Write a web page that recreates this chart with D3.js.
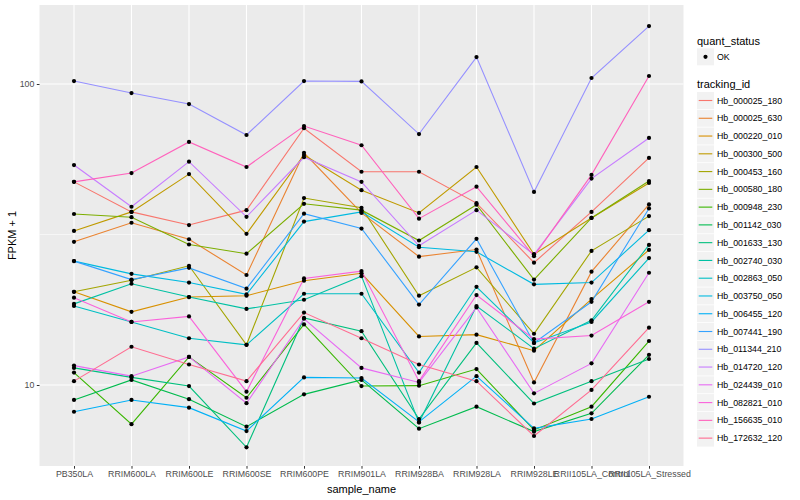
<!DOCTYPE html>
<html><head><meta charset="utf-8">
<script src="https://cdn.jsdelivr.net/npm/d3@7"></script>
<style>body{margin:0;background:#fff}svg text{font-family:"Liberation Sans",Arial,Helvetica,sans-serif}</style>
</head><body>
<svg id="chart" width="800" height="500"></svg>
<script>
const categories = ["PB350LA","RRIM600LA","RRIM600LE","RRIM600SE","RRIM600PE","RRIM901LA","RRIM928BA","RRIM928LA","RRIM928LE","RRII105LA_Control","RRII105LA_Stressed"];
const trackingIds = ["Hb_000025_180","Hb_000025_630","Hb_000220_010","Hb_000300_500","Hb_000453_160","Hb_000580_180","Hb_000948_230","Hb_001142_030","Hb_001633_130","Hb_002740_030","Hb_002863_050","Hb_003750_050","Hb_006455_120","Hb_007441_190","Hb_011344_210","Hb_014720_120","Hb_024439_010","Hb_082821_010","Hb_156635_010","Hb_172632_120"];
const trackingColors = ["#F8766D","#EA8331","#D89000","#C09B00","#A3A500","#7CAE00","#39B600","#00BB4E","#00BF7D","#00C1A3","#00BFC4","#00BAE0","#00B0F6","#35A2FF","#9590FF","#C77CFF","#E76BF3","#FA62DB","#FF62BC","#FF6C91"];
const yTicks = [10, 100];

// FPKM + 1 per sample (categories order)
const hb_000025_180 = [47.3, 37.6, 34.0, 38.1, 71.3, 51.1, 51.1, 40.2, 25.5, 37.6, 56.8];
const hb_000025_630 = [29.9, 34.6, 30.5, 23.2, 59.1, 37.3, 26.7, 28.2, 10.2, 23.8, 39.8];
const hb_000220_010 = [20.4, 17.5, 19.6, 19.8, 22.2, 23.5, 14.5, 14.7, 13.0, 19.3, 28.1];
const hb_000300_500 = [32.5, 37.6, 50.2, 31.8, 58.1, 44.4, 37.3, 53.0, 27.2, 35.9, 46.9];
const hb_000453_160 = [20.4, 22.3, 24.9, 13.6, 41.8, 38.8, 19.8, 24.6, 14.8, 27.9, 36.4];
const hb_000580_180 = [37.0, 36.1, 29.3, 27.3, 40.0, 38.1, 30.2, 39.7, 22.4, 35.9, 47.6];
const hb_000948_230 = [11.0, 7.41, 12.4, 9.07, 15.9, 9.92, 9.95, 11.3, 7.09, 8.47, 14.0];
const hb_001142_030 = [8.92, 10.4, 8.97, 7.27, 9.31, 10.4, 7.16, 8.47, 7.00, 8.05, 12.6];
const hb_001633_130 = [11.4, 10.6, 9.92, 6.21, 16.7, 15.1, 7.71, 13.8, 8.68, 10.3, 12.2];
const hb_002740_030 = [18.6, 21.7, 19.6, 17.9, 19.2, 23.0, 7.50, 18.3, 13.2, 16.4, 29.2];
const hb_002863_050 = [18.3, 16.2, 14.3, 13.6, 20.1, 20.1, 11.0, 21.2, 13.8, 16.2, 26.4];
const hb_003750_050 = [25.8, 23.4, 21.9, 20.0, 34.9, 37.6, 28.7, 27.7, 21.6, 21.9, 32.7];
const hb_006455_120 = [8.15, 8.92, 8.41, 7.03, 10.6, 10.55, 7.54, 10.7, 7.18, 7.71, 9.14];
const hb_007441_190 = [25.8, 22.4, 24.5, 20.9, 37.1, 33.1, 18.5, 30.6, 13.8, 18.9, 38.6];
const hb_011344_210 = [102.3, 93.3, 85.8, 67.7, 102.3, 102.0, 68.2, 122.9, 43.8, 104.7, 155.8];
const hb_014720_120 = [53.8, 39.1, 55.2, 36.2, 57.1, 47.3, 29.0, 38.1, 27.1, 48.5, 66.2];
const hb_024439_010 = [11.6, 10.7, 12.4, 8.70, 16.6, 11.4, 10.2, 18.1, 9.38, 11.8, 23.6];
const hb_082821_010 = [19.5, 16.2, 16.9, 9.50, 22.6, 23.9, 10.3, 19.9, 14.2, 14.6, 18.9];
const hb_156635_010 = [47.3, 50.6, 64.2, 53.0, 72.5, 62.6, 35.7, 45.6, 26.8, 49.9, 106.3];
const hb_172632_120 = [10.3, 13.4, 11.7, 10.3, 17.4, 14.3, 11.7, 10.3, 6.77, 9.63, 15.5];

const seriesValues = [hb_000025_180, hb_000025_630, hb_000220_010, hb_000300_500, hb_000453_160, hb_000580_180, hb_000948_230, hb_001142_030, hb_001633_130, hb_002740_030, hb_002863_050, hb_003750_050, hb_006455_120, hb_007441_190, hb_011344_210, hb_014720_120, hb_024439_010, hb_082821_010, hb_156635_010, hb_172632_120];

const series = trackingIds.map((id, i) => ({id, color: trackingColors[i], values: seriesValues[i].map((v, j) => ({cat: categories[j], v}))}));

const svg = d3.select("#chart");
const panel = {left: 39.5, right: 683.5, top: 5, bottom: 466};

const x = d3.scalePoint().domain(categories).range([panel.left, panel.right]).padding(0.6);
const y = d3.scaleLog().domain([Math.pow(10, 0.7309), Math.pow(10, 2.2625)]).range([panel.bottom, panel.top]);

svg.append("rect").attr("x", panel.left).attr("y", panel.top)
  .attr("width", panel.right - panel.left).attr("height", panel.bottom - panel.top).attr("fill", "#EBEBEB");

// minor gridline at 10^1.5
const minor = [Math.pow(10, 1.5)];
svg.append("g").selectAll("line").data(minor).join("line")
  .attr("x1", panel.left).attr("x2", panel.right)
  .attr("y1", d => y(d)).attr("y2", d => y(d))
  .attr("stroke", "#fff").attr("stroke-width", 0.55);
svg.append("g").selectAll("line").data(yTicks).join("line")
  .attr("x1", panel.left).attr("x2", panel.right)
  .attr("y1", d => y(d)).attr("y2", d => y(d))
  .attr("stroke", "#fff").attr("stroke-width", 1.1);
svg.append("g").selectAll("line").data(categories).join("line")
  .attr("x1", d => x(d)).attr("x2", d => x(d))
  .attr("y1", panel.top).attr("y2", panel.bottom)
  .attr("stroke", "#fff").attr("stroke-width", 1.1);

const line = d3.line().x(d => x(d.cat)).y(d => y(d.v));
svg.append("g").selectAll("path").data(series).join("path")
  .attr("d", d => line(d.values)).attr("fill", "none")
  .attr("stroke", d => d.color).attr("stroke-width", 1.1);

svg.append("g").selectAll("g").data(series).join("g")
  .selectAll("circle").data(d => d.values).join("circle")
  .attr("cx", d => x(d.cat)).attr("cy", d => y(d.v)).attr("r", 2.1).attr("fill", "#000");

// axes
const xAxis = d3.axisBottom(x).tickSize(2.7).tickPadding(2.5);
const gx = svg.append("g").attr("transform", `translate(0,${panel.bottom})`).call(xAxis);
gx.select(".domain").remove();
gx.selectAll(".tick line").attr("stroke", "#333");
gx.selectAll(".tick text").attr("fill", "#4D4D4D").attr("font-size", 8.8).attr("font-family", "Liberation Sans, Arial, sans-serif");

const yAxis = d3.axisLeft(y).tickValues(yTicks).tickFormat(d3.format("d")).tickSize(2.7).tickPadding(2.5);
const gy = svg.append("g").attr("transform", `translate(${panel.left},0)`).call(yAxis);
gy.select(".domain").remove();
gy.selectAll(".tick line").attr("stroke", "#333");
gy.selectAll(".tick text").attr("fill", "#4D4D4D").attr("font-size", 8.8).attr("font-family", "Liberation Sans, Arial, sans-serif");

svg.append("text").attr("x", (panel.left + panel.right) / 2).attr("y", 493)
  .attr("text-anchor", "middle").attr("font-size", 11).attr("fill", "#000").text("sample_name");
svg.append("text").attr("transform", `translate(16,${(panel.top + panel.bottom) / 2}) rotate(-90)`)
  .attr("text-anchor", "middle").attr("font-size", 11).attr("fill", "#000").text("FPKM + 1");

// legends
const lg = svg.append("g");
lg.append("text").attr("x", 697).attr("y", 44.5).attr("font-size", 11).text("quant_status");
lg.append("rect").attr("x", 697).attr("y", 48.3).attr("width", 17).attr("height", 17).attr("fill", "#F2F2F2");
lg.append("circle").attr("cx", 705.5).attr("cy", 56.8).attr("r", 2.1).attr("fill", "#000");
lg.append("text").attr("x", 717).attr("y", 59.8).attr("font-size", 8.8).text("OK");

lg.append("text").attr("x", 697).attr("y", 88).attr("font-size", 11).text("tracking_id");
const keyH = 17.77, keyY0 = 92;
const keys = lg.selectAll("g.key").data(series).join("g").attr("class", "key")
  .attr("transform", (d, i) => `translate(697,${keyY0 + i * keyH})`);
keys.append("rect").attr("width", 17).attr("height", 17).attr("fill", "#F2F2F2");
keys.append("line").attr("x1", 1.7).attr("x2", 15.3).attr("y1", 8.5).attr("y2", 8.5)
  .attr("stroke", d => d.color).attr("stroke-width", 1.1);
keys.append("text").attr("x", 20).attr("y", 11.6).attr("font-size", 8.8).text(d => d.id);
</script>
</body></html>
